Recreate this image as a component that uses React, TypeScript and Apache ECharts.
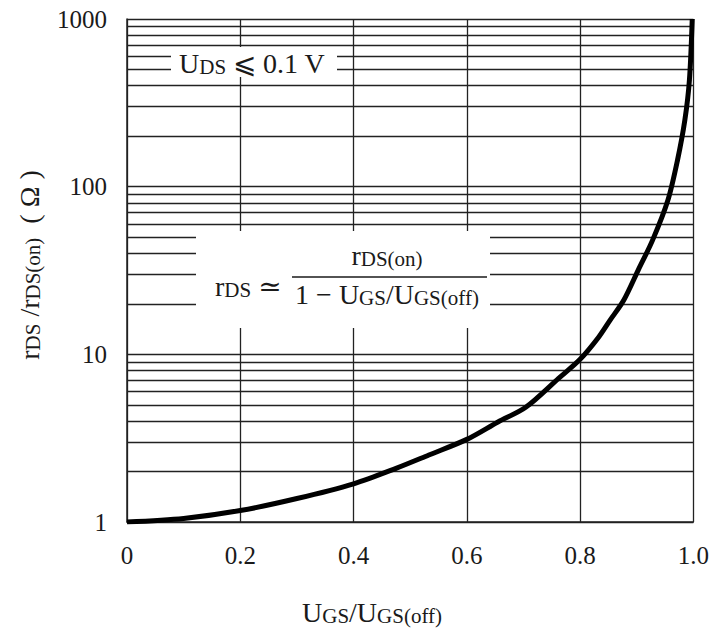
import React, { useEffect, useRef } from "react";
import * as echarts from "echarts";

const FONT = '"Liberation Serif", "Times New Roman", "DejaVu Serif", serif';

// Curve: x = UGS/UGS(off), y = rDS/rDS(on)
const xValues = [0, 0.1, 0.2, 0.3, 0.4, 0.475, 0.533, 0.6, 0.655, 0.704, 0.762, 0.8, 0.833, 0.853, 0.877, 0.903, 0.928, 0.955, 0.972, 0.985, 0.993, 0.998];
const yValues = [1, 1.05, 1.17, 1.38, 1.69, 2.09, 2.51, 3.11, 3.95, 4.83, 7.19, 9.34, 12.7, 16, 21, 32, 48, 83, 144, 250, 432, 1000];

// Minor horizontal log grid lines
const minorGridValues = [2, 3, 4, 5, 6, 7, 8, 9, 20, 30, 40, 50, 60, 70, 80, 90, 200, 300, 400, 500, 600, 700, 800, 900];

const xTickLabels = ["0", "0.2", "0.4", "0.6", "0.8", "1.0"];
const yTickLabels = ["1", "10", "100", "1000"];

const rich = {
  m: { fontSize: 28, lineHeight: 32, fontFamily: FONT, fill: "#1a1a1a", color: "#1a1a1a", verticalAlign: "bottom" },
  s: { fontSize: 21, lineHeight: 22, fontFamily: FONT, fill: "#1a1a1a", color: "#1a1a1a", verticalAlign: "bottom" },
};

export default function App() {
  const ref = useRef<HTMLDivElement>(null);
  useEffect(() => {
    if (!ref.current) return;
    const chart = echarts.init(ref.current, undefined, { renderer: "svg" });
    const lineColor = "#222";
    const option: any = {
      animation: false,
      backgroundColor: "#fff",
      grid: { left: 127, right: 17, top: 19, bottom: 107, containLabel: false },
      xAxis: {
        type: "value",
        min: 0,
        max: 1,
        interval: 0.2,
        axisLine: { show: true, lineStyle: { color: lineColor, width: 1.5 } },
        axisTick: { show: false },
        splitLine: { show: true, lineStyle: { color: lineColor, width: 1.3 } },
        axisLabel: {
          margin: 21,
          fontSize: 25,
          fontFamily: FONT,
          color: "#1a1a1a",
          formatter: (v: number) => xTickLabels[Math.round(v / 0.2)] ?? String(v),
        },
      },
      yAxis: {
        type: "log",
        logBase: 10,
        min: 1,
        max: 1000,
        axisLine: { show: true, lineStyle: { color: lineColor, width: 1.5 } },
        axisTick: { show: false },
        splitLine: { show: true, lineStyle: { color: lineColor, width: 1.3 } },
        axisLabel: {
          margin: 20,
          fontSize: 25,
          fontFamily: FONT,
          color: "#1a1a1a",
          formatter: (v: number) => yTickLabels[Math.round(Math.log10(v))] ?? String(v),
        },
      },
      series: [
        {
          type: "line",
          data: xValues.map((x, i) => [x, yValues[i]]),
          showSymbol: false,
          smooth: 0.3,
          lineStyle: { color: "#000", width: 5 },
          z: 5,
          markLine: {
            silent: true,
            symbol: ["none", "none"],
            label: { show: false },
            lineStyle: { color: lineColor, width: 1.3, type: "solid" },
            data: minorGridValues.map((v) => ({ yAxis: v })),
          },
        },
      ],
      graphic: {
        elements: [
          { type: "rect", z: 100, shape: { x: 171, y: 47, width: 166, height: 30 }, style: { fill: "#fff" } },
          {
            type: "text", z: 101, x: 179, y: 61,
            style: { text: "{m|U}{s|DS}{m| ⩽ 0.1 V}", rich, align: "left", verticalAlign: "middle" },
          },
          { type: "rect", z: 100, shape: { x: 196, y: 231, width: 294, height: 97 }, style: { fill: "#fff" } },
          {
            type: "text", z: 101, x: 387, y: 253,
            style: { text: "{m|r}{s|DS(on)}", rich, align: "center", verticalAlign: "middle" },
          },
          { type: "line", z: 101, shape: { x1: 292, y1: 277, x2: 487, y2: 277 }, style: { stroke: "#1a1a1a", lineWidth: 1.5 } },
          {
            type: "text", z: 101, x: 215, y: 284,
            style: { text: "{m|r}{s|DS}{m| ≃}", rich, align: "left", verticalAlign: "middle" },
          },
          {
            type: "text", z: 101, x: 387, y: 292,
            style: { text: "{m|1 − U}{s|GS}{m|/U}{s|GS(off)}", rich, align: "center", verticalAlign: "middle" },
          },
          {
            type: "text", z: 101, x: 27, y: 265, rotation: Math.PI / 2,
            style: { text: "{m|r}{s|DS}{m| /r}{s|DS(on)}{m|  ( Ω )}", rich, align: "center", verticalAlign: "middle" },
          },
          {
            type: "text", z: 101, x: 372, y: 610,
            style: { text: "{m|U}{s|GS}{m|/U}{s|GS(off)}", rich, align: "center", verticalAlign: "middle" },
          },
        ],
      },
    };
    chart.setOption(option);
    return () => chart.dispose();
  }, []);
  return (
    <div
      ref={ref}
      style={{ position: "fixed", left: 0, top: 0, width: 712, height: 629, background: "#fff" }}
    />
  );
}
